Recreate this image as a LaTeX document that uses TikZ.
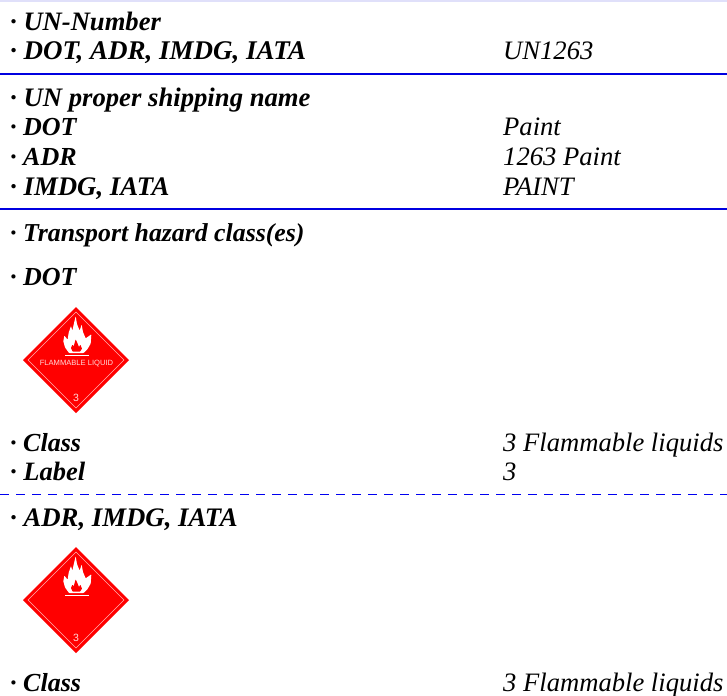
\documentclass[tikz,border=0pt]{standalone}
\usepackage{fontspec}
\setmainfont{Liberation Serif}
\newfontfamily\labelfont{Liberation Sans}
\tikzset{
  x=1pt,y=-1pt,
  keytext/.style={anchor=base west,inner sep=0pt,font=\fontsize{#1}{30}\selectfont\bfseries\itshape},
  keytext/.default=26,
  valtext/.style={anchor=base west,inner sep=0pt,font=\fontsize{26.6}{30}\selectfont\itshape},
  rule/.style={draw={rgb,255:red,0;green,0;blue,224},line width=1.5pt},
  dashrule/.style={draw={rgb,255:red,0;green,0;blue,240},line width=1pt,dash pattern=on 9pt off 7pt},
  pics/hazard/.style={code={
    \fill[red] (0,-53) -- (53,0) -- (0,53) -- (-53,0) -- cycle;
    \draw[white!70!red,line width=.4pt] (0,-48) -- (48,0) -- (0,48) -- (-48,0) -- cycle;
    \begin{scope}[x=.3333pt,y=-.3333pt,shift={(-63,-144)}]
      \fill[white,rounded corners=.6pt] (42,123) -- (30,106) -- (25,88) -- (28,71) -- (38,83)
        -- (41,62) -- (48,42) -- (52,56) -- (56,38) -- (62,13) -- (66,36) -- (74,56)
        -- (80,38) -- (84,60) -- (92,79) -- (109,67) -- (107,95) -- (97,112) -- (86,123) -- cycle;
      \fill[red,rounded corners=.5pt] (53,119) -- (48,108) -- (52,98) -- (56,103) -- (62,82)
        -- (68,95) -- (72,105) -- (76,98) -- (81,110) -- (75,119) -- cycle;
      \fill[white] (29,130) rectangle (103,133);
    \end{scope}
    \node[white!85!red,inner sep=0pt,font=\labelfont\fontsize{10.5}{11}\selectfont] at (0,38) {3};
  }}
}
\begin{document}
\begin{tikzpicture}
\useasboundingbox (0,0) rectangle (727,695);
\fill[white] (0,0) rectangle (727,695);
\coordinate (t0) at (0,1); \coordinate (t1) at (727,1);
\coordinate (a0) at (0,74); \coordinate (a1) at (727,74);
\coordinate (b0) at (0,209); \coordinate (b1) at (727,209);
\coordinate (c0) at (0,494); \coordinate (c1) at (727,494);
\draw[draw={rgb,255:red,224;green,224;blue,250},line width=1.5pt] (t0) -- (t1);
\draw[rule] (a0) -- (a1);
\draw[rule] (b0) -- (b1);
\draw[dashrule] (c0) -- (c1);
\node[keytext=26.6] (k1) at (10,31) {· UN-Number};
\node[keytext=27] (k2) at (10,60) {· DOT, ADR, IMDG, IATA};
\node[valtext] (v2) at (503,60) {UN1263};
\node[keytext=26.7] (k3) at (10,107) {· UN proper shipping name};
\node[keytext] (k4) at (10,136) {· DOT};
\node[valtext] (v4) at (503,136) {Paint};
\node[keytext] (k5) at (10,165.5) {· ADR};
\node[valtext] (v5) at (503,165.5) {1263 Paint};
\node[keytext=26.8] (k6) at (10,195.5) {· IMDG, IATA};
\node[valtext] (v6) at (503,195.5) {PAINT};
\node[keytext=25.8] (k7) at (10,241.5) {· Transport hazard class(es)};
\node[keytext] (k8) at (10,285.5) {· DOT};
\pic at (76,360) {hazard};
\node[inner sep=0pt,text=white!85!red,font=\labelfont\fontsize{7.6}{8}\selectfont] (fl) at (76.5,363.5) {FLAMMABLE LIQUID};
\node[keytext] (k9) at (10,451) {· Class};
\node[valtext] (v9) at (503,451) {3 Flammable liquids};
\node[keytext=26.5] (k10) at (10,480.5) {· Label};
\node[valtext] (v10) at (503,480.5) {3};
\node[keytext=26.75] (k11) at (10,526.5) {· ADR, IMDG, IATA};
\pic at (76,600) {hazard};
\node[keytext] (k12) at (10,691) {· Class};
\node[valtext] (v12) at (503,691) {3 Flammable liquids};
\end{tikzpicture}
\end{document}
